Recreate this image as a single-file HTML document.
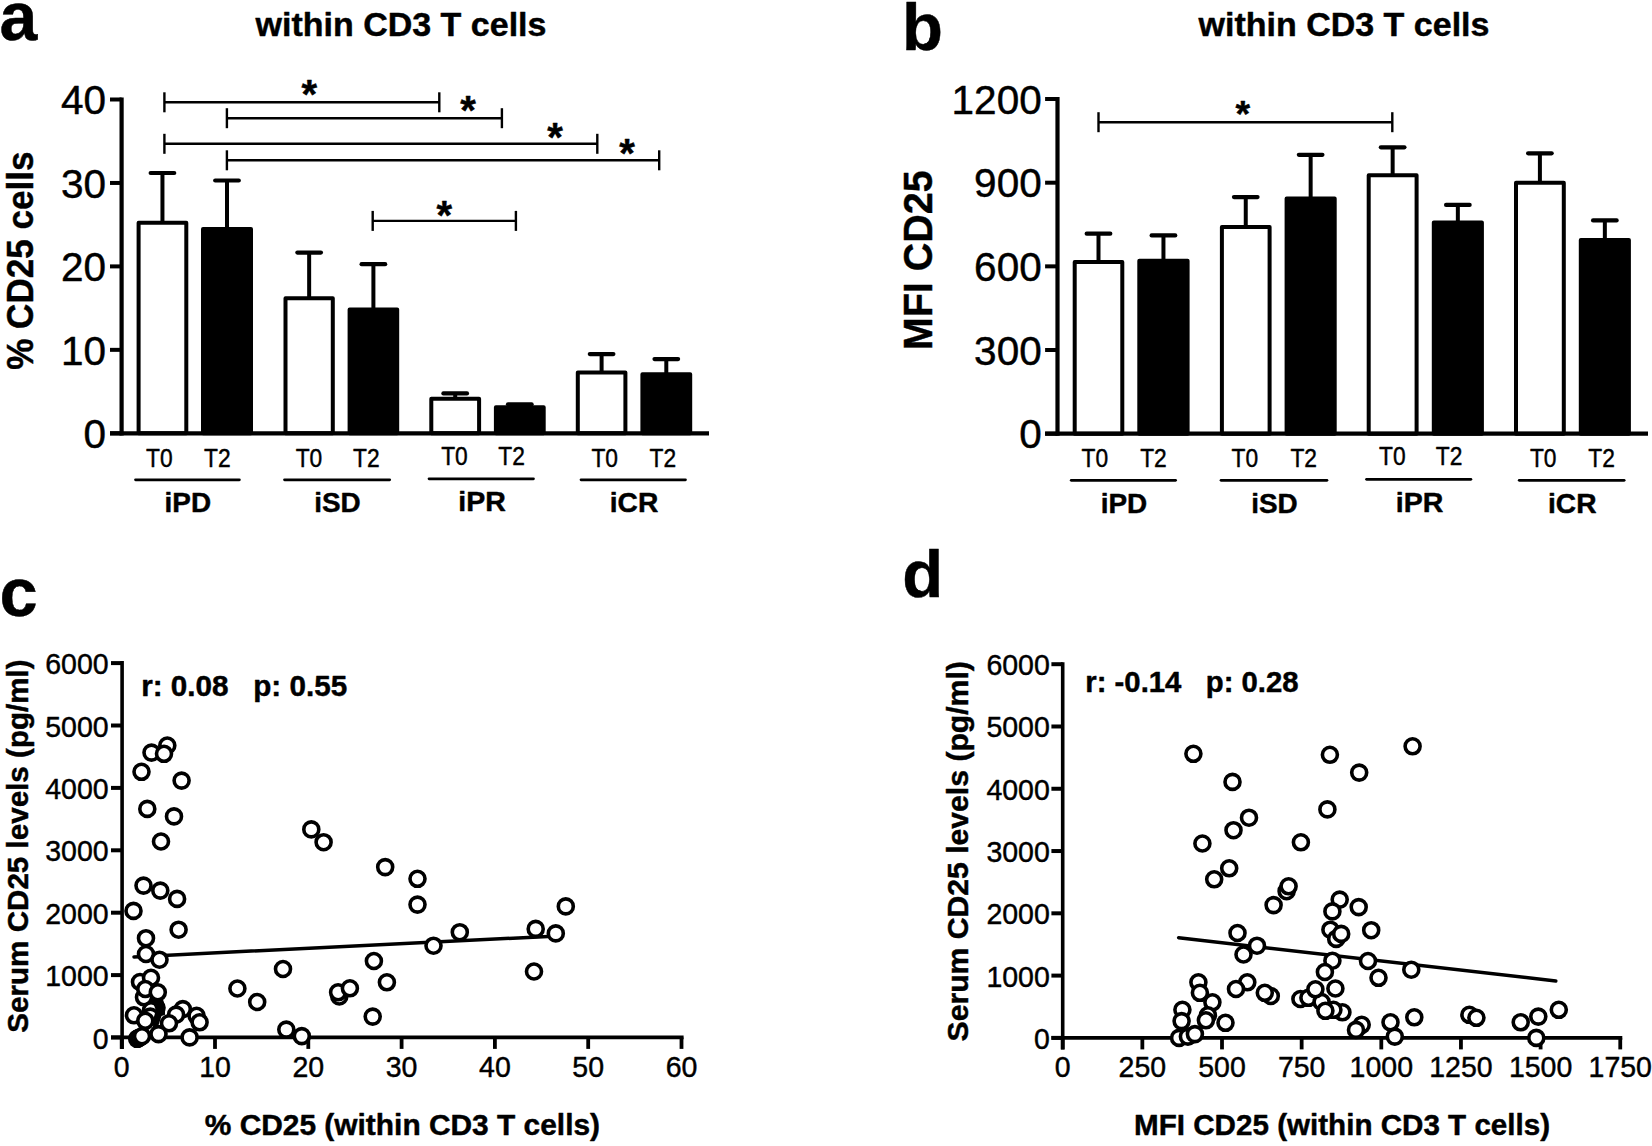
<!DOCTYPE html>
<html lang="en"><head><meta charset="utf-8"><title>Figure</title>
<style>
html,body{margin:0;padding:0;background:#fff;}
body{width:1652px;height:1146px;overflow:hidden;}
svg{display:block;}
svg text{font-family:"Liberation Sans", Arial, Helvetica, sans-serif;fill:#000;stroke:#000;stroke-width:0.45px;stroke-linejoin:round;}
</style></head><body>
<svg width="1652" height="1146" viewBox="0 0 1652 1146">
<rect width="1652" height="1146" fill="#fff"/>
<text x="-0.50" y="40.30" font-size="68" font-weight="700" text-anchor="start">a</text>
<text x="902.00" y="50.30" font-size="67" font-weight="700" text-anchor="start">b</text>
<text x="-0.50" y="615.60" font-size="68.5" font-weight="700" text-anchor="start">c</text>
<text x="902.30" y="597.20" font-size="67" font-weight="700" text-anchor="start">d</text>
<text x="401.00" y="36.40" font-size="34" font-weight="700" text-anchor="middle">within CD3 T cells</text>
<text x="1344.00" y="36.40" font-size="34" font-weight="700" text-anchor="middle">within CD3 T cells</text>
<line x1="162.45" y1="173.00" x2="162.45" y2="222.80" stroke="#000" stroke-width="4" stroke-linecap="butt"/>
<line x1="150.65" y1="173.00" x2="174.25" y2="173.00" stroke="#000" stroke-width="4.2" stroke-linecap="round"/>
<rect x="138.60" y="222.80" width="47.70" height="210.50" fill="#fff" stroke="#000" stroke-width="4" stroke-linejoin="round"/>
<line x1="227.00" y1="180.50" x2="227.00" y2="228.90" stroke="#000" stroke-width="4" stroke-linecap="butt"/>
<line x1="215.20" y1="180.50" x2="238.80" y2="180.50" stroke="#000" stroke-width="4.2" stroke-linecap="round"/>
<rect x="203.00" y="228.90" width="48.00" height="204.40" fill="#000" stroke="#000" stroke-width="4" stroke-linejoin="round"/>
<line x1="309.15" y1="252.60" x2="309.15" y2="298.30" stroke="#000" stroke-width="4" stroke-linecap="butt"/>
<line x1="297.35" y1="252.60" x2="320.95" y2="252.60" stroke="#000" stroke-width="4.2" stroke-linecap="round"/>
<rect x="285.50" y="298.30" width="47.30" height="135.00" fill="#fff" stroke="#000" stroke-width="4" stroke-linejoin="round"/>
<line x1="373.40" y1="264.20" x2="373.40" y2="309.50" stroke="#000" stroke-width="4" stroke-linecap="butt"/>
<line x1="361.60" y1="264.20" x2="385.20" y2="264.20" stroke="#000" stroke-width="4.2" stroke-linecap="round"/>
<rect x="349.60" y="309.50" width="47.60" height="123.80" fill="#000" stroke="#000" stroke-width="4" stroke-linejoin="round"/>
<line x1="455.20" y1="393.40" x2="455.20" y2="398.70" stroke="#000" stroke-width="4" stroke-linecap="butt"/>
<line x1="443.40" y1="393.40" x2="467.00" y2="393.40" stroke="#000" stroke-width="4.2" stroke-linecap="round"/>
<rect x="431.30" y="398.70" width="47.80" height="34.60" fill="#fff" stroke="#000" stroke-width="4" stroke-linejoin="round"/>
<line x1="519.80" y1="404.30" x2="519.80" y2="407.20" stroke="#000" stroke-width="4" stroke-linecap="butt"/>
<line x1="508.00" y1="404.30" x2="531.60" y2="404.30" stroke="#000" stroke-width="4.2" stroke-linecap="round"/>
<rect x="495.90" y="407.20" width="47.80" height="26.10" fill="#000" stroke="#000" stroke-width="4" stroke-linejoin="round"/>
<line x1="601.60" y1="354.10" x2="601.60" y2="372.40" stroke="#000" stroke-width="4" stroke-linecap="butt"/>
<line x1="589.80" y1="354.10" x2="613.40" y2="354.10" stroke="#000" stroke-width="4.2" stroke-linecap="round"/>
<rect x="577.80" y="372.40" width="47.60" height="60.90" fill="#fff" stroke="#000" stroke-width="4" stroke-linejoin="round"/>
<line x1="666.30" y1="359.10" x2="666.30" y2="374.20" stroke="#000" stroke-width="4" stroke-linecap="butt"/>
<line x1="654.50" y1="359.10" x2="678.10" y2="359.10" stroke="#000" stroke-width="4.2" stroke-linecap="round"/>
<rect x="642.40" y="374.20" width="47.80" height="59.10" fill="#000" stroke="#000" stroke-width="4" stroke-linejoin="round"/>
<line x1="121.60" y1="97.50" x2="121.60" y2="435.45" stroke="#000" stroke-width="4.2" stroke-linecap="butt"/>
<line x1="110.00" y1="433.30" x2="709.00" y2="433.30" stroke="#000" stroke-width="4.3" stroke-linecap="butt"/>
<line x1="110.00" y1="99.50" x2="121.60" y2="99.50" stroke="#000" stroke-width="4" stroke-linecap="butt"/>
<text x="106.10" y="114.20" font-size="40.5" text-anchor="end">40</text>
<line x1="110.00" y1="182.95" x2="121.60" y2="182.95" stroke="#000" stroke-width="4" stroke-linecap="butt"/>
<text x="106.10" y="197.65" font-size="40.5" text-anchor="end">30</text>
<line x1="110.00" y1="266.40" x2="121.60" y2="266.40" stroke="#000" stroke-width="4" stroke-linecap="butt"/>
<text x="106.10" y="281.10" font-size="40.5" text-anchor="end">20</text>
<line x1="110.00" y1="349.85" x2="121.60" y2="349.85" stroke="#000" stroke-width="4" stroke-linecap="butt"/>
<text x="106.10" y="364.55" font-size="40.5" text-anchor="end">10</text>
<line x1="110.00" y1="433.30" x2="121.60" y2="433.30" stroke="#000" stroke-width="4" stroke-linecap="butt"/>
<text x="106.10" y="448.00" font-size="40.5" text-anchor="end">0</text>
<line x1="164.40" y1="102.30" x2="439.30" y2="102.30" stroke="#000" stroke-width="2.4" stroke-linecap="butt"/>
<line x1="164.40" y1="92.30" x2="164.40" y2="112.30" stroke="#000" stroke-width="2.4" stroke-linecap="butt"/>
<line x1="439.30" y1="92.30" x2="439.30" y2="112.30" stroke="#000" stroke-width="2.4" stroke-linecap="butt"/>
<line x1="226.90" y1="118.20" x2="501.90" y2="118.20" stroke="#000" stroke-width="2.4" stroke-linecap="butt"/>
<line x1="226.90" y1="108.20" x2="226.90" y2="128.20" stroke="#000" stroke-width="2.4" stroke-linecap="butt"/>
<line x1="501.90" y1="108.20" x2="501.90" y2="128.20" stroke="#000" stroke-width="2.4" stroke-linecap="butt"/>
<line x1="164.40" y1="143.80" x2="597.30" y2="143.80" stroke="#000" stroke-width="2.4" stroke-linecap="butt"/>
<line x1="164.40" y1="133.80" x2="164.40" y2="153.80" stroke="#000" stroke-width="2.4" stroke-linecap="butt"/>
<line x1="597.30" y1="133.80" x2="597.30" y2="153.80" stroke="#000" stroke-width="2.4" stroke-linecap="butt"/>
<line x1="226.90" y1="160.30" x2="659.20" y2="160.30" stroke="#000" stroke-width="2.4" stroke-linecap="butt"/>
<line x1="226.90" y1="150.30" x2="226.90" y2="170.30" stroke="#000" stroke-width="2.4" stroke-linecap="butt"/>
<line x1="659.20" y1="150.30" x2="659.20" y2="170.30" stroke="#000" stroke-width="2.4" stroke-linecap="butt"/>
<line x1="372.70" y1="220.90" x2="515.90" y2="220.90" stroke="#000" stroke-width="2.4" stroke-linecap="butt"/>
<line x1="372.70" y1="210.90" x2="372.70" y2="230.90" stroke="#000" stroke-width="2.4" stroke-linecap="butt"/>
<line x1="515.90" y1="210.90" x2="515.90" y2="230.90" stroke="#000" stroke-width="2.4" stroke-linecap="butt"/>
<text x="309.30" y="108.00" font-size="40" font-weight="700" text-anchor="middle">*</text>
<text x="468.10" y="124.00" font-size="40" font-weight="700" text-anchor="middle">*</text>
<text x="555.00" y="151.00" font-size="40" font-weight="700" text-anchor="middle">*</text>
<text x="627.10" y="167.00" font-size="40" font-weight="700" text-anchor="middle">*</text>
<text x="444.30" y="229.00" font-size="40" font-weight="700" text-anchor="middle">*</text>
<text x="159.40" y="466.80" font-size="26.3" text-anchor="middle" textLength="26.6" lengthAdjust="spacingAndGlyphs">T0</text>
<text x="217.30" y="466.80" font-size="26.3" text-anchor="middle" textLength="26.6" lengthAdjust="spacingAndGlyphs">T2</text>
<text x="309.00" y="466.80" font-size="26.3" text-anchor="middle" textLength="26.6" lengthAdjust="spacingAndGlyphs">T0</text>
<text x="366.30" y="466.80" font-size="26.3" text-anchor="middle" textLength="26.6" lengthAdjust="spacingAndGlyphs">T2</text>
<text x="454.50" y="465.30" font-size="26.3" text-anchor="middle" textLength="26.6" lengthAdjust="spacingAndGlyphs">T0</text>
<text x="511.60" y="465.30" font-size="26.3" text-anchor="middle" textLength="26.6" lengthAdjust="spacingAndGlyphs">T2</text>
<text x="604.70" y="466.80" font-size="26.3" text-anchor="middle" textLength="26.6" lengthAdjust="spacingAndGlyphs">T0</text>
<text x="662.80" y="466.80" font-size="26.3" text-anchor="middle" textLength="26.6" lengthAdjust="spacingAndGlyphs">T2</text>
<line x1="135.50" y1="479.80" x2="239.40" y2="479.80" stroke="#000" stroke-width="2.7" stroke-linecap="round"/>
<line x1="284.50" y1="479.80" x2="389.70" y2="479.80" stroke="#000" stroke-width="2.7" stroke-linecap="round"/>
<line x1="429.00" y1="478.80" x2="533.50" y2="478.80" stroke="#000" stroke-width="2.7" stroke-linecap="round"/>
<line x1="581.00" y1="479.80" x2="685.50" y2="479.80" stroke="#000" stroke-width="2.7" stroke-linecap="round"/>
<text x="187.80" y="512.40" font-size="28" font-weight="700" text-anchor="middle" textLength="46.5" lengthAdjust="spacingAndGlyphs">iPD</text>
<text x="337.40" y="512.40" font-size="28" font-weight="700" text-anchor="middle" textLength="46.5" lengthAdjust="spacingAndGlyphs">iSD</text>
<text x="482.10" y="510.60" font-size="28" font-weight="700" text-anchor="middle" textLength="47.5" lengthAdjust="spacingAndGlyphs">iPR</text>
<text x="634.00" y="512.40" font-size="28" font-weight="700" text-anchor="middle" textLength="48.5" lengthAdjust="spacingAndGlyphs">iCR</text>
<line x1="1098.50" y1="233.70" x2="1098.50" y2="262.00" stroke="#000" stroke-width="4" stroke-linecap="butt"/>
<line x1="1086.70" y1="233.70" x2="1110.30" y2="233.70" stroke="#000" stroke-width="4.2" stroke-linecap="round"/>
<rect x="1074.70" y="262.00" width="47.60" height="171.70" fill="#fff" stroke="#000" stroke-width="4" stroke-linejoin="round"/>
<line x1="1163.45" y1="235.40" x2="1163.45" y2="260.70" stroke="#000" stroke-width="4" stroke-linecap="butt"/>
<line x1="1151.65" y1="235.40" x2="1175.25" y2="235.40" stroke="#000" stroke-width="4.2" stroke-linecap="round"/>
<rect x="1139.30" y="260.70" width="48.30" height="173.00" fill="#000" stroke="#000" stroke-width="4" stroke-linejoin="round"/>
<line x1="1245.75" y1="197.10" x2="1245.75" y2="227.00" stroke="#000" stroke-width="4" stroke-linecap="butt"/>
<line x1="1233.95" y1="197.10" x2="1257.55" y2="197.10" stroke="#000" stroke-width="4.2" stroke-linecap="round"/>
<rect x="1221.90" y="227.00" width="47.70" height="206.70" fill="#fff" stroke="#000" stroke-width="4" stroke-linejoin="round"/>
<line x1="1310.65" y1="154.80" x2="1310.65" y2="198.60" stroke="#000" stroke-width="4" stroke-linecap="butt"/>
<line x1="1298.85" y1="154.80" x2="1322.45" y2="154.80" stroke="#000" stroke-width="4.2" stroke-linecap="round"/>
<rect x="1286.60" y="198.60" width="48.10" height="235.10" fill="#000" stroke="#000" stroke-width="4" stroke-linejoin="round"/>
<line x1="1392.65" y1="147.30" x2="1392.65" y2="175.30" stroke="#000" stroke-width="4" stroke-linecap="butt"/>
<line x1="1380.85" y1="147.30" x2="1404.45" y2="147.30" stroke="#000" stroke-width="4.2" stroke-linecap="round"/>
<rect x="1368.70" y="175.30" width="47.90" height="258.40" fill="#fff" stroke="#000" stroke-width="4" stroke-linejoin="round"/>
<line x1="1457.85" y1="204.90" x2="1457.85" y2="222.40" stroke="#000" stroke-width="4" stroke-linecap="butt"/>
<line x1="1446.05" y1="204.90" x2="1469.65" y2="204.90" stroke="#000" stroke-width="4.2" stroke-linecap="round"/>
<rect x="1433.80" y="222.40" width="48.10" height="211.30" fill="#000" stroke="#000" stroke-width="4" stroke-linejoin="round"/>
<line x1="1539.90" y1="153.30" x2="1539.90" y2="182.80" stroke="#000" stroke-width="4" stroke-linecap="butt"/>
<line x1="1528.10" y1="153.30" x2="1551.70" y2="153.30" stroke="#000" stroke-width="4.2" stroke-linecap="round"/>
<rect x="1516.00" y="182.80" width="47.80" height="250.90" fill="#fff" stroke="#000" stroke-width="4" stroke-linejoin="round"/>
<line x1="1604.85" y1="220.40" x2="1604.85" y2="239.90" stroke="#000" stroke-width="4" stroke-linecap="butt"/>
<line x1="1593.05" y1="220.40" x2="1616.65" y2="220.40" stroke="#000" stroke-width="4.2" stroke-linecap="round"/>
<rect x="1580.80" y="239.90" width="48.10" height="193.80" fill="#000" stroke="#000" stroke-width="4" stroke-linejoin="round"/>
<line x1="1057.50" y1="97.00" x2="1057.50" y2="435.85" stroke="#000" stroke-width="4.2" stroke-linecap="butt"/>
<line x1="1045.10" y1="433.70" x2="1648.00" y2="433.70" stroke="#000" stroke-width="4.3" stroke-linecap="butt"/>
<line x1="1045.10" y1="99.00" x2="1057.50" y2="99.00" stroke="#000" stroke-width="4" stroke-linecap="butt"/>
<text x="1041.70" y="113.70" font-size="40.5" text-anchor="end">1200</text>
<line x1="1045.10" y1="182.70" x2="1057.50" y2="182.70" stroke="#000" stroke-width="4" stroke-linecap="butt"/>
<text x="1041.70" y="197.40" font-size="40.5" text-anchor="end">900</text>
<line x1="1045.10" y1="266.35" x2="1057.50" y2="266.35" stroke="#000" stroke-width="4" stroke-linecap="butt"/>
<text x="1041.70" y="281.05" font-size="40.5" text-anchor="end">600</text>
<line x1="1045.10" y1="350.00" x2="1057.50" y2="350.00" stroke="#000" stroke-width="4" stroke-linecap="butt"/>
<text x="1041.70" y="364.70" font-size="40.5" text-anchor="end">300</text>
<line x1="1045.10" y1="433.70" x2="1057.50" y2="433.70" stroke="#000" stroke-width="4" stroke-linecap="butt"/>
<text x="1041.70" y="448.40" font-size="40.5" text-anchor="end">0</text>
<line x1="1098.50" y1="122.20" x2="1392.30" y2="122.20" stroke="#000" stroke-width="2.4" stroke-linecap="butt"/>
<line x1="1098.50" y1="112.20" x2="1098.50" y2="132.20" stroke="#000" stroke-width="2.4" stroke-linecap="butt"/>
<line x1="1392.30" y1="112.20" x2="1392.30" y2="132.20" stroke="#000" stroke-width="2.4" stroke-linecap="butt"/>
<text x="1242.70" y="126.60" font-size="37.5" font-weight="700" text-anchor="middle">*</text>
<text x="1094.90" y="467.30" font-size="26.3" text-anchor="middle" textLength="26.6" lengthAdjust="spacingAndGlyphs">T0</text>
<text x="1153.50" y="467.30" font-size="26.3" text-anchor="middle" textLength="26.6" lengthAdjust="spacingAndGlyphs">T2</text>
<text x="1244.90" y="467.30" font-size="26.3" text-anchor="middle" textLength="26.6" lengthAdjust="spacingAndGlyphs">T0</text>
<text x="1303.70" y="467.30" font-size="26.3" text-anchor="middle" textLength="26.6" lengthAdjust="spacingAndGlyphs">T2</text>
<text x="1392.40" y="465.30" font-size="26.3" text-anchor="middle" textLength="26.6" lengthAdjust="spacingAndGlyphs">T0</text>
<text x="1449.10" y="465.30" font-size="26.3" text-anchor="middle" textLength="26.6" lengthAdjust="spacingAndGlyphs">T2</text>
<text x="1543.20" y="467.30" font-size="26.3" text-anchor="middle" textLength="26.6" lengthAdjust="spacingAndGlyphs">T0</text>
<text x="1601.60" y="467.30" font-size="26.3" text-anchor="middle" textLength="26.6" lengthAdjust="spacingAndGlyphs">T2</text>
<line x1="1071.20" y1="480.30" x2="1175.60" y2="480.30" stroke="#000" stroke-width="2.7" stroke-linecap="round"/>
<line x1="1221.00" y1="480.30" x2="1327.00" y2="480.30" stroke="#000" stroke-width="2.7" stroke-linecap="round"/>
<line x1="1366.50" y1="479.30" x2="1470.90" y2="479.30" stroke="#000" stroke-width="2.7" stroke-linecap="round"/>
<line x1="1519.20" y1="480.30" x2="1624.20" y2="480.30" stroke="#000" stroke-width="2.7" stroke-linecap="round"/>
<text x="1124.00" y="513.10" font-size="28" font-weight="700" text-anchor="middle" textLength="46.5" lengthAdjust="spacingAndGlyphs">iPD</text>
<text x="1274.50" y="513.10" font-size="28" font-weight="700" text-anchor="middle" textLength="46.5" lengthAdjust="spacingAndGlyphs">iSD</text>
<text x="1419.60" y="511.90" font-size="28" font-weight="700" text-anchor="middle" textLength="47.5" lengthAdjust="spacingAndGlyphs">iPR</text>
<text x="1572.30" y="513.10" font-size="28" font-weight="700" text-anchor="middle" textLength="48.5" lengthAdjust="spacingAndGlyphs">iCR</text>
<text transform="translate(33.10,260.60) rotate(-90)" font-size="37" font-weight="700" text-anchor="middle" textLength="218.5" lengthAdjust="spacingAndGlyphs">% CD25 cells</text>
<text transform="translate(932.00,260.20) rotate(-90)" font-size="40.5" font-weight="700" text-anchor="middle" textLength="180" lengthAdjust="spacingAndGlyphs">MFI CD25</text>
<line x1="122.10" y1="661.10" x2="122.10" y2="1048.90" stroke="#000" stroke-width="3.6" stroke-linecap="butt"/>
<line x1="111.00" y1="1037.40" x2="683.60" y2="1037.40" stroke="#000" stroke-width="3.8" stroke-linecap="butt"/>
<line x1="111.00" y1="663.10" x2="122.10" y2="663.10" stroke="#000" stroke-width="4.0" stroke-linecap="butt"/>
<text x="108.60" y="674.10" font-size="30" text-anchor="end" textLength="63.4" lengthAdjust="spacingAndGlyphs">6000</text>
<line x1="111.00" y1="725.50" x2="122.10" y2="725.50" stroke="#000" stroke-width="4.0" stroke-linecap="butt"/>
<text x="108.60" y="736.50" font-size="30" text-anchor="end" textLength="63.4" lengthAdjust="spacingAndGlyphs">5000</text>
<line x1="111.00" y1="787.90" x2="122.10" y2="787.90" stroke="#000" stroke-width="4.0" stroke-linecap="butt"/>
<text x="108.60" y="798.90" font-size="30" text-anchor="end" textLength="63.4" lengthAdjust="spacingAndGlyphs">4000</text>
<line x1="111.00" y1="850.30" x2="122.10" y2="850.30" stroke="#000" stroke-width="4.0" stroke-linecap="butt"/>
<text x="108.60" y="861.30" font-size="30" text-anchor="end" textLength="63.4" lengthAdjust="spacingAndGlyphs">3000</text>
<line x1="111.00" y1="912.70" x2="122.10" y2="912.70" stroke="#000" stroke-width="4.0" stroke-linecap="butt"/>
<text x="108.60" y="923.70" font-size="30" text-anchor="end" textLength="63.4" lengthAdjust="spacingAndGlyphs">2000</text>
<line x1="111.00" y1="975.10" x2="122.10" y2="975.10" stroke="#000" stroke-width="4.0" stroke-linecap="butt"/>
<text x="108.60" y="986.10" font-size="30" text-anchor="end" textLength="63.4" lengthAdjust="spacingAndGlyphs">1000</text>
<line x1="111.00" y1="1037.50" x2="122.10" y2="1037.50" stroke="#000" stroke-width="4.0" stroke-linecap="butt"/>
<text x="108.60" y="1048.50" font-size="30" text-anchor="end" textLength="15.8" lengthAdjust="spacingAndGlyphs">0</text>
<line x1="121.70" y1="1037.40" x2="121.70" y2="1048.90" stroke="#000" stroke-width="3.8" stroke-linecap="butt"/>
<text x="121.70" y="1076.60" font-size="30" text-anchor="middle" textLength="15.8" lengthAdjust="spacingAndGlyphs">0</text>
<line x1="215.00" y1="1037.40" x2="215.00" y2="1048.90" stroke="#000" stroke-width="3.8" stroke-linecap="butt"/>
<text x="215.00" y="1076.60" font-size="30" text-anchor="middle" textLength="31.7" lengthAdjust="spacingAndGlyphs">10</text>
<line x1="308.30" y1="1037.40" x2="308.30" y2="1048.90" stroke="#000" stroke-width="3.8" stroke-linecap="butt"/>
<text x="308.30" y="1076.60" font-size="30" text-anchor="middle" textLength="31.7" lengthAdjust="spacingAndGlyphs">20</text>
<line x1="401.60" y1="1037.40" x2="401.60" y2="1048.90" stroke="#000" stroke-width="3.8" stroke-linecap="butt"/>
<text x="401.60" y="1076.60" font-size="30" text-anchor="middle" textLength="31.7" lengthAdjust="spacingAndGlyphs">30</text>
<line x1="494.90" y1="1037.40" x2="494.90" y2="1048.90" stroke="#000" stroke-width="3.8" stroke-linecap="butt"/>
<text x="494.90" y="1076.60" font-size="30" text-anchor="middle" textLength="31.7" lengthAdjust="spacingAndGlyphs">40</text>
<line x1="588.20" y1="1037.40" x2="588.20" y2="1048.90" stroke="#000" stroke-width="3.8" stroke-linecap="butt"/>
<text x="588.20" y="1076.60" font-size="30" text-anchor="middle" textLength="31.7" lengthAdjust="spacingAndGlyphs">50</text>
<line x1="681.50" y1="1037.40" x2="681.50" y2="1048.90" stroke="#000" stroke-width="3.8" stroke-linecap="butt"/>
<text x="681.50" y="1076.60" font-size="30" text-anchor="middle" textLength="31.7" lengthAdjust="spacingAndGlyphs">60</text>
<line x1="134.00" y1="956.90" x2="548.20" y2="936.40" stroke="#000" stroke-width="3.5" stroke-linecap="round"/>
<circle cx="167.3" cy="745.5" r="7.5" fill="#fff" stroke="#000" stroke-width="3.6"/>
<circle cx="151.5" cy="752.6" r="7.5" fill="#fff" stroke="#000" stroke-width="3.6"/>
<circle cx="164.0" cy="753.8" r="7.5" fill="#fff" stroke="#000" stroke-width="3.6"/>
<circle cx="141.5" cy="771.8" r="7.5" fill="#fff" stroke="#000" stroke-width="3.6"/>
<circle cx="181.6" cy="780.6" r="7.5" fill="#fff" stroke="#000" stroke-width="3.6"/>
<circle cx="147.3" cy="808.9" r="7.5" fill="#fff" stroke="#000" stroke-width="3.6"/>
<circle cx="174.0" cy="816.4" r="7.5" fill="#fff" stroke="#000" stroke-width="3.6"/>
<circle cx="161.0" cy="841.5" r="7.5" fill="#fff" stroke="#000" stroke-width="3.6"/>
<circle cx="311.3" cy="829.4" r="7.5" fill="#fff" stroke="#000" stroke-width="3.6"/>
<circle cx="323.6" cy="842.2" r="7.5" fill="#fff" stroke="#000" stroke-width="3.6"/>
<circle cx="385.2" cy="867.1" r="7.5" fill="#fff" stroke="#000" stroke-width="3.6"/>
<circle cx="417.5" cy="878.8" r="7.5" fill="#fff" stroke="#000" stroke-width="3.6"/>
<circle cx="417.5" cy="904.6" r="7.5" fill="#fff" stroke="#000" stroke-width="3.6"/>
<circle cx="143.5" cy="885.6" r="7.5" fill="#fff" stroke="#000" stroke-width="3.6"/>
<circle cx="160.3" cy="890.6" r="7.5" fill="#fff" stroke="#000" stroke-width="3.6"/>
<circle cx="177.1" cy="898.9" r="7.5" fill="#fff" stroke="#000" stroke-width="3.6"/>
<circle cx="133.5" cy="910.9" r="7.5" fill="#fff" stroke="#000" stroke-width="3.6"/>
<circle cx="178.6" cy="929.7" r="7.5" fill="#fff" stroke="#000" stroke-width="3.6"/>
<circle cx="146.0" cy="938.2" r="7.5" fill="#fff" stroke="#000" stroke-width="3.6"/>
<circle cx="146.0" cy="954.0" r="7.5" fill="#fff" stroke="#000" stroke-width="3.6"/>
<circle cx="159.5" cy="959.7" r="7.5" fill="#fff" stroke="#000" stroke-width="3.6"/>
<circle cx="140.0" cy="982.0" r="7.5" fill="#fff" stroke="#000" stroke-width="3.6"/>
<circle cx="151.0" cy="977.8" r="7.5" fill="#fff" stroke="#000" stroke-width="3.6"/>
<circle cx="144.0" cy="997.3" r="7.5" fill="#fff" stroke="#000" stroke-width="3.6"/>
<circle cx="145.3" cy="989.0" r="7.5" fill="#fff" stroke="#000" stroke-width="3.6"/>
<circle cx="157.8" cy="992.3" r="7.5" fill="#fff" stroke="#000" stroke-width="3.6"/>
<circle cx="156.5" cy="1007.8" r="7.5" fill="#fff" stroke="#000" stroke-width="3.6"/>
<circle cx="151.0" cy="1010.3" r="7.5" fill="#fff" stroke="#000" stroke-width="3.6"/>
<circle cx="134.0" cy="1015.3" r="7.5" fill="#fff" stroke="#000" stroke-width="3.6"/>
<circle cx="150.3" cy="1016.6" r="7.5" fill="#fff" stroke="#000" stroke-width="3.6"/>
<polygon points="154.6,999.3 162.4,1000.8 164.0,1008.7 164.0,1014.2 160.8,1015.0 159.3,1019.7 156.9,1026.8 153.8,1029.1 154.6,1018.1 156.9,1010.3 154.6,1004.0" fill="#000" stroke="#000" stroke-width="2" stroke-linejoin="round"/>
<circle cx="145.3" cy="1020.8" r="7.5" fill="#fff" stroke="#000" stroke-width="3.6"/>
<circle cx="182.8" cy="1009.1" r="7.5" fill="#fff" stroke="#000" stroke-width="3.6"/>
<circle cx="176.1" cy="1014.6" r="7.5" fill="#fff" stroke="#000" stroke-width="3.6"/>
<circle cx="169.0" cy="1023.3" r="7.5" fill="#fff" stroke="#000" stroke-width="3.6"/>
<circle cx="196.6" cy="1015.8" r="7.5" fill="#fff" stroke="#000" stroke-width="3.6"/>
<circle cx="199.6" cy="1022.3" r="7.5" fill="#fff" stroke="#000" stroke-width="3.6"/>
<circle cx="137.2" cy="1038.8" r="7.5" fill="#fff" stroke="#000" stroke-width="3.6"/>
<circle cx="138.2" cy="1038.3" r="7.5" fill="#fff" stroke="#000" stroke-width="3.6"/>
<circle cx="139.4" cy="1037.7" r="7.5" fill="#fff" stroke="#000" stroke-width="3.6"/>
<circle cx="142.0" cy="1036.2" r="7.5" fill="#fff" stroke="#000" stroke-width="3.6"/>
<circle cx="158.5" cy="1034.1" r="7.5" fill="#fff" stroke="#000" stroke-width="3.6"/>
<circle cx="189.6" cy="1037.4" r="7.5" fill="#fff" stroke="#000" stroke-width="3.6"/>
<circle cx="237.4" cy="988.5" r="7.5" fill="#fff" stroke="#000" stroke-width="3.6"/>
<circle cx="257.2" cy="1002.0" r="7.5" fill="#fff" stroke="#000" stroke-width="3.6"/>
<circle cx="283.0" cy="969.0" r="7.5" fill="#fff" stroke="#000" stroke-width="3.6"/>
<circle cx="286.3" cy="1029.6" r="7.5" fill="#fff" stroke="#000" stroke-width="3.6"/>
<circle cx="301.8" cy="1036.1" r="7.5" fill="#fff" stroke="#000" stroke-width="3.6"/>
<circle cx="339.3" cy="996.5" r="7.5" fill="#fff" stroke="#000" stroke-width="3.6"/>
<circle cx="338.1" cy="992.3" r="7.5" fill="#fff" stroke="#000" stroke-width="3.6"/>
<circle cx="349.9" cy="988.3" r="7.5" fill="#fff" stroke="#000" stroke-width="3.6"/>
<circle cx="373.9" cy="961.0" r="7.5" fill="#fff" stroke="#000" stroke-width="3.6"/>
<circle cx="386.9" cy="982.3" r="7.5" fill="#fff" stroke="#000" stroke-width="3.6"/>
<circle cx="372.7" cy="1016.6" r="7.5" fill="#fff" stroke="#000" stroke-width="3.6"/>
<circle cx="565.8" cy="906.4" r="7.5" fill="#fff" stroke="#000" stroke-width="3.6"/>
<circle cx="459.8" cy="932.2" r="7.5" fill="#fff" stroke="#000" stroke-width="3.6"/>
<circle cx="433.5" cy="945.7" r="7.5" fill="#fff" stroke="#000" stroke-width="3.6"/>
<circle cx="535.7" cy="928.9" r="7.5" fill="#fff" stroke="#000" stroke-width="3.6"/>
<circle cx="555.8" cy="933.4" r="7.5" fill="#fff" stroke="#000" stroke-width="3.6"/>
<circle cx="534.0" cy="971.5" r="7.5" fill="#fff" stroke="#000" stroke-width="3.6"/>
<text x="141.20" y="695.50" font-size="29.65" font-weight="700" text-anchor="start" style="white-space:pre">r: 0.08   p: 0.55</text>
<text x="402.40" y="1134.70" font-size="29.9" font-weight="700" text-anchor="middle">% CD25 (within CD3 T cells)</text>
<text transform="translate(28.10,846.00) rotate(-90)" font-size="29.6" font-weight="700" text-anchor="middle">Serum CD25 levels (pg/ml)</text>
<line x1="1062.70" y1="662.20" x2="1062.70" y2="1049.40" stroke="#000" stroke-width="3.6" stroke-linecap="butt"/>
<line x1="1051.40" y1="1037.90" x2="1622.30" y2="1037.90" stroke="#000" stroke-width="3.8" stroke-linecap="butt"/>
<line x1="1051.40" y1="664.20" x2="1062.70" y2="664.20" stroke="#000" stroke-width="4.0" stroke-linecap="butt"/>
<text x="1049.80" y="675.20" font-size="30" text-anchor="end" textLength="63.4" lengthAdjust="spacingAndGlyphs">6000</text>
<line x1="1051.40" y1="726.48" x2="1062.70" y2="726.48" stroke="#000" stroke-width="4.0" stroke-linecap="butt"/>
<text x="1049.80" y="737.48" font-size="30" text-anchor="end" textLength="63.4" lengthAdjust="spacingAndGlyphs">5000</text>
<line x1="1051.40" y1="788.76" x2="1062.70" y2="788.76" stroke="#000" stroke-width="4.0" stroke-linecap="butt"/>
<text x="1049.80" y="799.76" font-size="30" text-anchor="end" textLength="63.4" lengthAdjust="spacingAndGlyphs">4000</text>
<line x1="1051.40" y1="851.04" x2="1062.70" y2="851.04" stroke="#000" stroke-width="4.0" stroke-linecap="butt"/>
<text x="1049.80" y="862.04" font-size="30" text-anchor="end" textLength="63.4" lengthAdjust="spacingAndGlyphs">3000</text>
<line x1="1051.40" y1="913.32" x2="1062.70" y2="913.32" stroke="#000" stroke-width="4.0" stroke-linecap="butt"/>
<text x="1049.80" y="924.32" font-size="30" text-anchor="end" textLength="63.4" lengthAdjust="spacingAndGlyphs">2000</text>
<line x1="1051.40" y1="975.60" x2="1062.70" y2="975.60" stroke="#000" stroke-width="4.0" stroke-linecap="butt"/>
<text x="1049.80" y="986.60" font-size="30" text-anchor="end" textLength="63.4" lengthAdjust="spacingAndGlyphs">1000</text>
<line x1="1051.40" y1="1037.88" x2="1062.70" y2="1037.88" stroke="#000" stroke-width="4.0" stroke-linecap="butt"/>
<text x="1049.80" y="1048.88" font-size="30" text-anchor="end" textLength="15.8" lengthAdjust="spacingAndGlyphs">0</text>
<line x1="1062.70" y1="1037.90" x2="1062.70" y2="1049.40" stroke="#000" stroke-width="3.8" stroke-linecap="butt"/>
<text x="1062.70" y="1076.60" font-size="30" text-anchor="middle" textLength="15.8" lengthAdjust="spacingAndGlyphs">0</text>
<line x1="1142.35" y1="1037.90" x2="1142.35" y2="1049.40" stroke="#000" stroke-width="3.8" stroke-linecap="butt"/>
<text x="1142.35" y="1076.60" font-size="30" text-anchor="middle" textLength="47.5" lengthAdjust="spacingAndGlyphs">250</text>
<line x1="1222.00" y1="1037.90" x2="1222.00" y2="1049.40" stroke="#000" stroke-width="3.8" stroke-linecap="butt"/>
<text x="1222.00" y="1076.60" font-size="30" text-anchor="middle" textLength="47.5" lengthAdjust="spacingAndGlyphs">500</text>
<line x1="1301.65" y1="1037.90" x2="1301.65" y2="1049.40" stroke="#000" stroke-width="3.8" stroke-linecap="butt"/>
<text x="1301.65" y="1076.60" font-size="30" text-anchor="middle" textLength="47.5" lengthAdjust="spacingAndGlyphs">750</text>
<line x1="1381.30" y1="1037.90" x2="1381.30" y2="1049.40" stroke="#000" stroke-width="3.8" stroke-linecap="butt"/>
<text x="1381.30" y="1076.60" font-size="30" text-anchor="middle" textLength="63.4" lengthAdjust="spacingAndGlyphs">1000</text>
<line x1="1460.95" y1="1037.90" x2="1460.95" y2="1049.40" stroke="#000" stroke-width="3.8" stroke-linecap="butt"/>
<text x="1460.95" y="1076.60" font-size="30" text-anchor="middle" textLength="63.4" lengthAdjust="spacingAndGlyphs">1250</text>
<line x1="1540.60" y1="1037.90" x2="1540.60" y2="1049.40" stroke="#000" stroke-width="3.8" stroke-linecap="butt"/>
<text x="1540.60" y="1076.60" font-size="30" text-anchor="middle" textLength="63.4" lengthAdjust="spacingAndGlyphs">1500</text>
<line x1="1620.25" y1="1037.90" x2="1620.25" y2="1049.40" stroke="#000" stroke-width="3.8" stroke-linecap="butt"/>
<text x="1620.25" y="1076.60" font-size="30" text-anchor="middle" textLength="63.4" lengthAdjust="spacingAndGlyphs">1750</text>
<line x1="1178.60" y1="937.70" x2="1555.80" y2="981.00" stroke="#000" stroke-width="3.5" stroke-linecap="round"/>
<circle cx="1193.4" cy="753.8" r="7.5" fill="#fff" stroke="#000" stroke-width="3.6"/>
<circle cx="1232.5" cy="781.9" r="7.5" fill="#fff" stroke="#000" stroke-width="3.6"/>
<circle cx="1202.4" cy="843.5" r="7.5" fill="#fff" stroke="#000" stroke-width="3.6"/>
<circle cx="1233.5" cy="830.2" r="7.5" fill="#fff" stroke="#000" stroke-width="3.6"/>
<circle cx="1229.2" cy="868.3" r="7.5" fill="#fff" stroke="#000" stroke-width="3.6"/>
<circle cx="1214.2" cy="879.3" r="7.5" fill="#fff" stroke="#000" stroke-width="3.6"/>
<circle cx="1198.4" cy="982.3" r="7.5" fill="#fff" stroke="#000" stroke-width="3.6"/>
<circle cx="1212.4" cy="1002.3" r="7.5" fill="#fff" stroke="#000" stroke-width="3.6"/>
<circle cx="1199.9" cy="992.8" r="7.5" fill="#fff" stroke="#000" stroke-width="3.6"/>
<circle cx="1182.4" cy="1009.8" r="7.5" fill="#fff" stroke="#000" stroke-width="3.6"/>
<circle cx="1181.6" cy="1021.1" r="7.5" fill="#fff" stroke="#000" stroke-width="3.6"/>
<circle cx="1207.9" cy="1015.3" r="7.5" fill="#fff" stroke="#000" stroke-width="3.6"/>
<circle cx="1205.9" cy="1020.3" r="7.5" fill="#fff" stroke="#000" stroke-width="3.6"/>
<circle cx="1225.5" cy="1022.8" r="7.5" fill="#fff" stroke="#000" stroke-width="3.6"/>
<circle cx="1179.1" cy="1037.9" r="7.5" fill="#fff" stroke="#000" stroke-width="3.6"/>
<circle cx="1187.9" cy="1036.6" r="7.5" fill="#fff" stroke="#000" stroke-width="3.6"/>
<circle cx="1194.9" cy="1034.1" r="7.5" fill="#fff" stroke="#000" stroke-width="3.6"/>
<circle cx="1412.6" cy="746.3" r="7.5" fill="#fff" stroke="#000" stroke-width="3.6"/>
<circle cx="1329.9" cy="754.8" r="7.5" fill="#fff" stroke="#000" stroke-width="3.6"/>
<circle cx="1359.2" cy="772.6" r="7.5" fill="#fff" stroke="#000" stroke-width="3.6"/>
<circle cx="1327.4" cy="809.4" r="7.5" fill="#fff" stroke="#000" stroke-width="3.6"/>
<circle cx="1249.0" cy="817.7" r="7.5" fill="#fff" stroke="#000" stroke-width="3.6"/>
<circle cx="1300.9" cy="842.3" r="7.5" fill="#fff" stroke="#000" stroke-width="3.6"/>
<circle cx="1286.6" cy="891.2" r="7.5" fill="#fff" stroke="#000" stroke-width="3.6"/>
<circle cx="1288.6" cy="886.3" r="7.5" fill="#fff" stroke="#000" stroke-width="3.6"/>
<circle cx="1273.6" cy="905.1" r="7.5" fill="#fff" stroke="#000" stroke-width="3.6"/>
<circle cx="1339.7" cy="899.6" r="7.5" fill="#fff" stroke="#000" stroke-width="3.6"/>
<circle cx="1332.4" cy="911.4" r="7.5" fill="#fff" stroke="#000" stroke-width="3.6"/>
<circle cx="1358.7" cy="907.1" r="7.5" fill="#fff" stroke="#000" stroke-width="3.6"/>
<circle cx="1330.4" cy="929.7" r="7.5" fill="#fff" stroke="#000" stroke-width="3.6"/>
<circle cx="1336.2" cy="938.9" r="7.5" fill="#fff" stroke="#000" stroke-width="3.6"/>
<circle cx="1341.2" cy="933.9" r="7.5" fill="#fff" stroke="#000" stroke-width="3.6"/>
<circle cx="1371.2" cy="930.2" r="7.5" fill="#fff" stroke="#000" stroke-width="3.6"/>
<circle cx="1237.5" cy="933.0" r="7.5" fill="#fff" stroke="#000" stroke-width="3.6"/>
<circle cx="1257.0" cy="945.7" r="7.5" fill="#fff" stroke="#000" stroke-width="3.6"/>
<circle cx="1243.5" cy="954.5" r="7.5" fill="#fff" stroke="#000" stroke-width="3.6"/>
<circle cx="1332.4" cy="960.7" r="7.5" fill="#fff" stroke="#000" stroke-width="3.6"/>
<circle cx="1368.0" cy="961.0" r="7.5" fill="#fff" stroke="#000" stroke-width="3.6"/>
<circle cx="1324.9" cy="972.0" r="7.5" fill="#fff" stroke="#000" stroke-width="3.6"/>
<circle cx="1411.3" cy="969.7" r="7.5" fill="#fff" stroke="#000" stroke-width="3.6"/>
<circle cx="1378.5" cy="977.8" r="7.5" fill="#fff" stroke="#000" stroke-width="3.6"/>
<circle cx="1247.3" cy="982.3" r="7.5" fill="#fff" stroke="#000" stroke-width="3.6"/>
<circle cx="1236.0" cy="989.0" r="7.5" fill="#fff" stroke="#000" stroke-width="3.6"/>
<circle cx="1335.4" cy="988.5" r="7.5" fill="#fff" stroke="#000" stroke-width="3.6"/>
<circle cx="1270.8" cy="996.0" r="7.5" fill="#fff" stroke="#000" stroke-width="3.6"/>
<circle cx="1264.8" cy="992.8" r="7.5" fill="#fff" stroke="#000" stroke-width="3.6"/>
<circle cx="1300.4" cy="999.0" r="7.5" fill="#fff" stroke="#000" stroke-width="3.6"/>
<circle cx="1308.4" cy="997.8" r="7.5" fill="#fff" stroke="#000" stroke-width="3.6"/>
<circle cx="1321.6" cy="1002.0" r="7.5" fill="#fff" stroke="#000" stroke-width="3.6"/>
<circle cx="1315.4" cy="989.3" r="7.5" fill="#fff" stroke="#000" stroke-width="3.6"/>
<circle cx="1342.4" cy="1012.3" r="7.5" fill="#fff" stroke="#000" stroke-width="3.6"/>
<circle cx="1333.4" cy="1009.8" r="7.5" fill="#fff" stroke="#000" stroke-width="3.6"/>
<circle cx="1325.4" cy="1010.8" r="7.5" fill="#fff" stroke="#000" stroke-width="3.6"/>
<circle cx="1361.7" cy="1024.8" r="7.5" fill="#fff" stroke="#000" stroke-width="3.6"/>
<circle cx="1356.0" cy="1029.9" r="7.5" fill="#fff" stroke="#000" stroke-width="3.6"/>
<circle cx="1390.5" cy="1022.3" r="7.5" fill="#fff" stroke="#000" stroke-width="3.6"/>
<circle cx="1394.8" cy="1036.6" r="7.5" fill="#fff" stroke="#000" stroke-width="3.6"/>
<circle cx="1414.3" cy="1017.3" r="7.5" fill="#fff" stroke="#000" stroke-width="3.6"/>
<circle cx="1469.4" cy="1014.8" r="7.5" fill="#fff" stroke="#000" stroke-width="3.6"/>
<circle cx="1476.4" cy="1017.8" r="7.5" fill="#fff" stroke="#000" stroke-width="3.6"/>
<circle cx="1520.7" cy="1022.3" r="7.5" fill="#fff" stroke="#000" stroke-width="3.6"/>
<circle cx="1538.3" cy="1016.6" r="7.5" fill="#fff" stroke="#000" stroke-width="3.6"/>
<circle cx="1536.3" cy="1037.9" r="7.5" fill="#fff" stroke="#000" stroke-width="3.6"/>
<circle cx="1558.8" cy="1009.8" r="7.5" fill="#fff" stroke="#000" stroke-width="3.6"/>
<text x="1085.30" y="691.70" font-size="29.3" font-weight="700" text-anchor="start" style="white-space:pre">r: -0.14   p: 0.28</text>
<text x="1342.10" y="1134.70" font-size="29.6" font-weight="700" text-anchor="middle">MFI CD25 (within CD3 T cells)</text>
<text transform="translate(968.30,851.30) rotate(-90)" font-size="30.15" font-weight="700" text-anchor="middle">Serum CD25 levels (pg/ml)</text>
</svg>
</body></html>
